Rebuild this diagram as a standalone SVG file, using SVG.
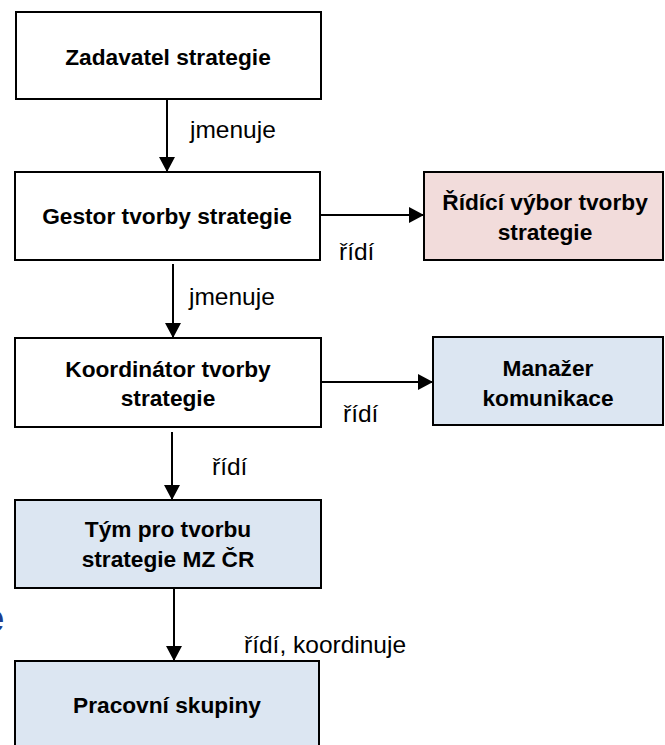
<svg xmlns="http://www.w3.org/2000/svg" width="665" height="745" viewBox="0 0 665 745">
  <style>
    .box { stroke: #000; stroke-width: 2; }
    .white { fill: #ffffff; }
    .pink { fill: #F2DCDB; }
    .blue { fill: #DCE6F2; }
    .lbl { font-family: "Liberation Sans", Arial, sans-serif; font-weight: bold; font-size: 22.7px; fill: #000; text-anchor: middle; }
    .edge { font-family: "Liberation Sans", Arial, sans-serif; font-size: 24.5px; fill: #000; }
    .conn { stroke: #000; stroke-width: 2; fill: none; marker-end: url(#arrow); }
  </style>
  <defs>
    <marker id="arrow" markerUnits="userSpaceOnUse" markerWidth="16" markerHeight="18" refX="15" refY="8" orient="auto">
      <path d="M0,0 L15,8 L0,16 z" fill="#000"/>
    </marker>
  </defs>
  <rect width="665" height="745" fill="#ffffff"/>

  <text x="-18" y="632" font-family="Liberation Sans, Arial, sans-serif" font-weight="bold" font-size="40" fill="#1D3D8F">e</text>

  <g id="connectors">
    <line class="conn" x1="167" y1="100" x2="167" y2="172"/>
    <line class="conn" x1="173" y1="264" x2="173" y2="338"/>
    <line class="conn" x1="172" y1="432" x2="172" y2="500"/>
    <line class="conn" x1="174" y1="588" x2="174" y2="661"/>
    <line class="conn" x1="321" y1="215" x2="424" y2="215"/>
    <line class="conn" x1="321" y1="382" x2="433" y2="382"/>
    <text class="edge" x="190" y="138">jmenuje</text>
    <text class="edge" x="189" y="305">jmenuje</text>
    <text class="edge" x="339" y="260">řídí</text>
    <text class="edge" x="343" y="422">řídí</text>
    <text class="edge" x="212" y="475">řídí</text>
    <text class="edge" x="244" y="653">řídí, koordinuje</text>
  </g>

  <g id="zadavatel">
    <rect class="box white" x="16" y="12" width="305" height="87"/>
    <text class="lbl" x="168" y="65">Zadavatel strategie</text>
  </g>
  <g id="gestor">
    <rect class="box white" x="15" y="172" width="305" height="88"/>
    <text class="lbl" x="167" y="224">Gestor tvorby strategie</text>
  </g>
  <g id="ridici-vybor">
    <rect class="box pink" x="424" y="172" width="239" height="88"/>
    <text class="lbl" x="545" y="210">Řídící výbor tvorby</text>
    <text class="lbl" x="545" y="240">strategie</text>
  </g>
  <g id="koordinator">
    <rect class="box white" x="15" y="338" width="306" height="89"/>
    <text class="lbl" x="168" y="377">Koordinátor tvorby</text>
    <text class="lbl" x="168" y="406">strategie</text>
  </g>
  <g id="manazer">
    <rect class="box blue" x="433" y="337" width="230" height="88"/>
    <text class="lbl" x="548" y="376">Manažer</text>
    <text class="lbl" x="548" y="406">komunikace</text>
  </g>
  <g id="tym">
    <rect class="box blue" x="15" y="500" width="306" height="88"/>
    <text class="lbl" x="168" y="537">Tým pro tvorbu</text>
    <text class="lbl" x="168" y="567">strategie MZ ČR</text>
  </g>
  <g id="pracovni">
    <rect class="box blue" x="15" y="661" width="304" height="88"/>
    <text class="lbl" x="167" y="713">Pracovní skupiny</text>
  </g>
</svg>
